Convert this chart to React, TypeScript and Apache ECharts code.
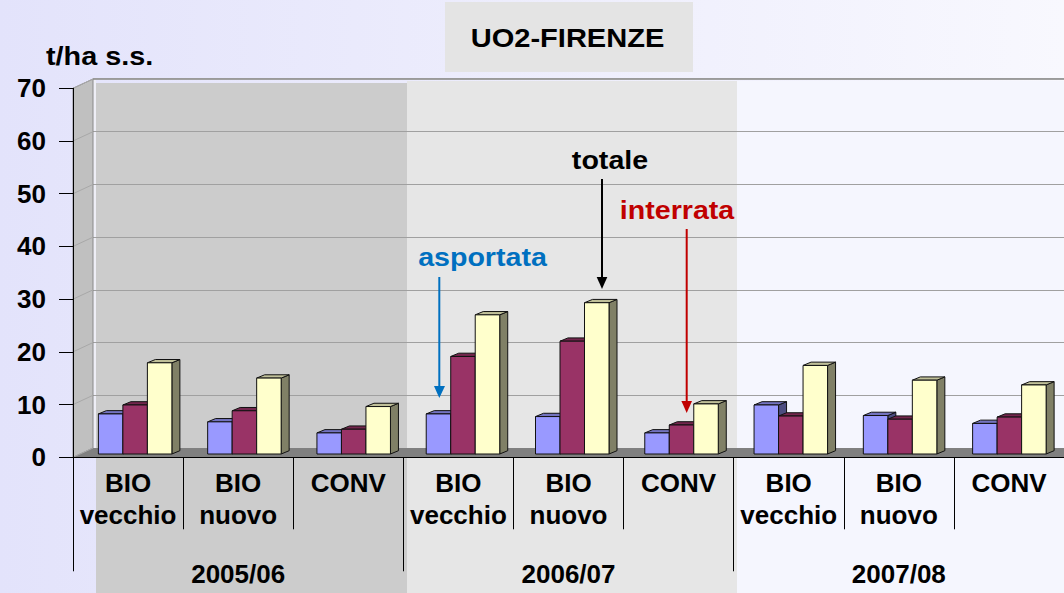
import React, { useEffect, useRef } from "react";
import * as echarts from "echarts";

const FONT = '"Liberation Sans", Arial, Helvetica, sans-serif';

const categories = [
  "BIO\nvecchio", "BIO\nnuovo", "CONV",
  "BIO\nvecchio", "BIO\nnuovo", "CONV",
  "BIO\nvecchio", "BIO\nnuovo", "CONV",
];
const years = ["2005/06", "2006/07", "2007/08"];
const asportata = [7.6, 6.1, 4.0, 7.6, 7.1, 4.0, 9.3, 7.3, 5.8];
const interrata = [9.3, 8.2, 4.7, 18.5, 21.4, 5.5, 7.2, 6.6, 7.0];
const totale = [17.3, 14.4, 9.0, 26.4, 28.7, 9.5, 16.8, 14.0, 13.1];
const yTicks = [0, 10, 20, 30, 40, 50, 60, 70];

const seriesDefs = [
  { name: "asportata", data: asportata, front: "#9999ff", top: "#7373c0", side: "#4d4d80" },
  { name: "interrata", data: interrata, front: "#993366", top: "#73264d", side: "#4d1a33" },
  { name: "totale", data: totale, front: "#ffffcc", top: "#c0c099", side: "#808066" },
];

const BAR_W = 24.5;
const DX = 8;
const DY = 3.3;

function barRenderer(si: number, colors: any) {
  return (params: any, api: any) => {
    const cat = api.value(0);
    const val = api.value(1);
    const base = api.coord([cat, 0]);
    const top = api.coord([cat, val]);
    const cx = base[0] + (si - 1) * BAR_W;
    const x0 = cx - BAR_W / 2;
    const x1 = cx + BAR_W / 2;
    const yt = top[1];
    const yb = base[1];
    const stroke = { stroke: "#111", lineWidth: 1 };
    return {
      type: "group",
      children: [
        {
          type: "polygon",
          shape: { points: [[x1, yt], [x1 + DX, yt - DY], [x1 + DX, yb - DY], [x1, yb]] },
          style: { fill: colors.side, ...stroke },
        },
        {
          type: "polygon",
          shape: { points: [[x0, yt], [x0 + DX, yt - DY], [x1 + DX, yt - DY], [x1, yt]] },
          style: { fill: colors.top, ...stroke },
        },
        {
          type: "rect",
          shape: { x: x0, y: yt, width: BAR_W, height: yb - yt },
          style: { fill: colors.front, ...stroke },
        },
      ],
    };
  };
}

export default function App() {
  const ref = useRef<HTMLDivElement>(null);
  useEffect(() => {
    const chart = echarts.init(ref.current!, null, { renderer: "svg" });
    const hiddenY = (gi: number) => ({ gridIndex: gi, type: "value", min: 0, max: 70, interval: 10, show: false });
    const textStyle = (size: number, color: string) => ({
      fontSize: size, fontWeight: "bold", fill: color, fontFamily: FONT,
    });
    const option: any = {
      animation: false,
      backgroundColor: new echarts.graphic.LinearGradient(0, 0, 1, 0, [
        { offset: 0, color: "#e3e3fb" },
        { offset: 1, color: "#f8f8fe" },
      ]),
      grid: [
        { left: 73, top: 88.3, width: 991, height: 369 },
        { left: 93, top: 79, width: 991, height: 369 },
        { left: 80.5, top: 85, width: 991, height: 369 },
        { left: 73, top: 88.3, width: 991, height: 369 },
      ],
      xAxis: [
        {
          gridIndex: 0, type: "category", data: categories, z: 3,
          axisLine: { show: true, lineStyle: { color: "#000", width: 1 } },
          axisTick: { show: true, interval: 0, length: 72, lineStyle: { color: "#000" } },
          axisLabel: {
            interval: 0, margin: 10, fontSize: 26, fontWeight: "bold", color: "#000",
            lineHeight: 32, fontFamily: FONT,
          },
        },
        { gridIndex: 1, type: "category", data: categories, show: false },
        { gridIndex: 2, type: "category", data: categories, show: false },
        {
          gridIndex: 3, type: "category", data: years, z: 3,
          axisLine: { show: false },
          axisTick: { show: true, interval: 0, length: 114, lineStyle: { color: "#000" } },
          axisLabel: {
            interval: 0, margin: 102, fontSize: 26, fontWeight: "bold", color: "#000",
            lineHeight: 30, fontFamily: FONT,
          },
        },
      ],
      yAxis: [
        {
          gridIndex: 0, type: "value", min: 0, max: 70, interval: 10, z: 3,
          axisLine: { show: true, lineStyle: { color: "#000", width: 1 } },
          axisTick: { show: true, length: 14, lineStyle: { color: "#000" } },
          axisLabel: { margin: 27, fontSize: 26, fontWeight: "bold", color: "#000", fontFamily: FONT },
          splitLine: { show: false },
        },
        {
          gridIndex: 1, type: "value", min: 0, max: 70, interval: 10,
          axisLine: { show: false }, axisTick: { show: false }, axisLabel: { show: false },
          splitLine: { show: true, lineStyle: { color: "#a0a0a0", width: 1 } },
        },
        hiddenY(2),
        hiddenY(3),
      ],
      series: [
        {
          type: "custom",
          name: "wallGrid",
          xAxisIndex: 0,
          yAxisIndex: 0,
          z: 1.5,
          silent: true,
          data: yTicks.map((v) => [0, v]),
          renderItem: (params: any, api: any) => {
            const cs = params.coordSys;
            const y = api.coord([0, api.value(1)])[1];
            return {
              type: "line",
              shape: { x1: cs.x, y1: y, x2: cs.x + 20, y2: y - 9.3 },
              style: { stroke: "#a8a8a8", lineWidth: 1 },
            };
          },
        },
        ...seriesDefs.map((s, si) => ({
          type: "custom",
          name: s.name,
          xAxisIndex: 2,
          yAxisIndex: 2,
          z: 2,
          data: s.data.map((v, i) => [i, v]),
          encode: { x: 0, y: 1 },
          renderItem: barRenderer(si, s),
        })),
      ],
      graphic: [
        { type: "rect", z: -5, shape: { x: 96, y: 83, width: 311, height: 510 }, style: { fill: "#cccccc" } },
        { type: "rect", z: -5, shape: { x: 407, y: 81, width: 330, height: 512 }, style: { fill: "#e6e6e6" } },
        { type: "rect", z: -5, shape: { x: 737, y: 81, width: 327, height: 512 }, style: { fill: "#f5f6fe" } },
        { type: "rect", z: -4, shape: { x: 93, y: 80, width: 3, height: 368 }, style: { fill: "#eeeef6" } },
        { type: "rect", z: -4, shape: { x: 93, y: 78, width: 971, height: 2 }, style: { fill: "#9a9a9a" } },
        {
          type: "polygon", z: 1,
          shape: { points: [[73, 88.3], [93, 79], [93, 448], [73, 457.3]] },
          style: { fill: "#c0c0c0", stroke: "#8a8a8a", lineWidth: 1 },
        },
        {
          type: "polygon", z: 1,
          shape: { points: [[73, 457.3], [93, 448], [1064, 448], [1064, 457.3]] },
          style: { fill: "#808080" },
        },
        { type: "rect", z: 1, shape: { x: 445, y: 2, width: 248, height: 70 }, style: { fill: "#e4e4e4" } },
        {
          type: "text", z: 6, x: 567.5, y: 38, scaleX: 1.14,
          style: { text: "UO2-FIRENZE", ...textStyle(25.5, "#000"), textAlign: "center", textVerticalAlign: "middle" },
        },
        {
          type: "text", z: 6, x: 46, y: 56, scaleX: 1.13,
          style: { text: "t/ha s.s.", ...textStyle(25.5, "#000"), textAlign: "left", textVerticalAlign: "middle" },
        },
        {
          type: "text", z: 6, x: 482.5, y: 257, scaleX: 1.1,
          style: { text: "asportata", ...textStyle(26, "#0070c0"), textAlign: "center", textVerticalAlign: "middle" },
        },
        { type: "line", z: 6, shape: { x1: 439.3, y1: 277, x2: 439.3, y2: 387 }, style: { stroke: "#0070c0", lineWidth: 2 } },
        { type: "polygon", z: 6, shape: { points: [[434, 386], [445, 386], [439.3, 398]] }, style: { fill: "#0070c0" } },
        {
          type: "text", z: 6, x: 610, y: 160, scaleX: 1.1,
          style: { text: "totale", ...textStyle(26, "#000"), textAlign: "center", textVerticalAlign: "middle" },
        },
        { type: "line", z: 6, shape: { x1: 602, y1: 179, x2: 602, y2: 278 }, style: { stroke: "#000", lineWidth: 2 } },
        { type: "polygon", z: 6, shape: { points: [[596.7, 277], [607.3, 277], [602, 289]] }, style: { fill: "#000" } },
        {
          type: "text", z: 6, x: 677, y: 210, scaleX: 1.1,
          style: { text: "interrata", ...textStyle(26, "#c00000"), textAlign: "center", textVerticalAlign: "middle" },
        },
        { type: "line", z: 6, shape: { x1: 686.7, y1: 229, x2: 686.7, y2: 402 }, style: { stroke: "#c00000", lineWidth: 2 } },
        { type: "polygon", z: 6, shape: { points: [[681.4, 401], [692, 401], [686.7, 413]] }, style: { fill: "#c00000" } },
      ],
    };
    chart.setOption(option);
    return () => chart.dispose();
  }, []);
  return <div ref={ref} style={{ position: "absolute", left: 0, top: 0, width: 1064, height: 593 }} />;
}
